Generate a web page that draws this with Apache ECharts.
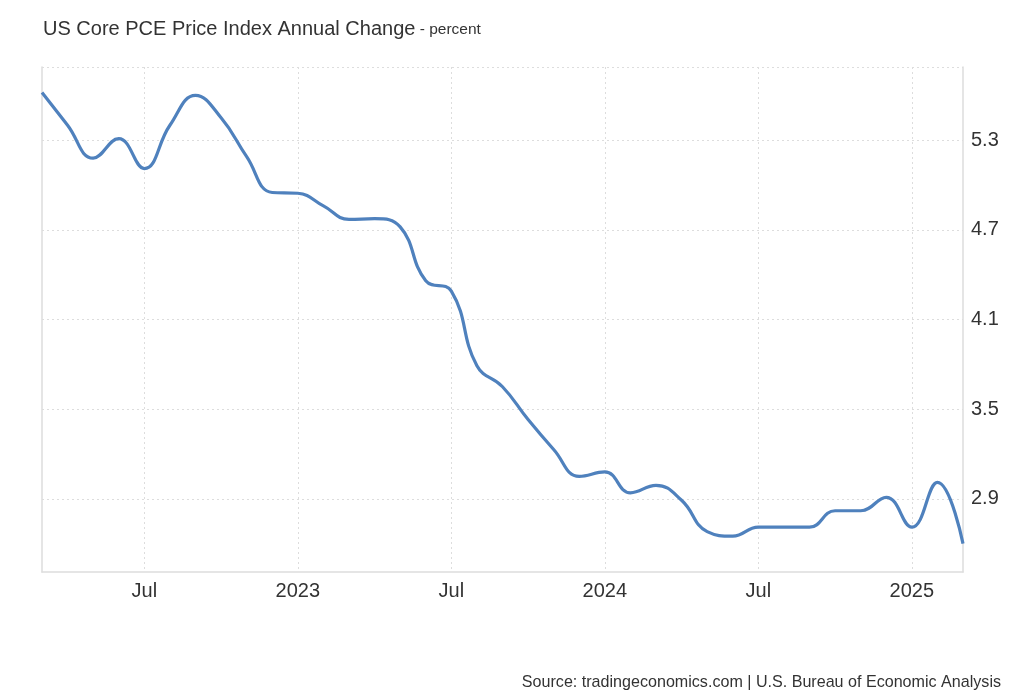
<!DOCTYPE html>
<html>
<head>
<meta charset="utf-8">
<script src="https://cdn.jsdelivr.net/npm/echarts@6/dist/echarts.min.js"></script>
<style>
html,body{margin:0;padding:0;background:#fff;}
#chart{width:1024px;height:700px;}
</style>
</head>
<body>
<div id="chart"></div>
<script>
const categories = [
  '2022-03','2022-04','2022-05','2022-06','2022-07','2022-08','2022-09','2022-10','2022-11','2022-12',
  '2023-01','2023-02','2023-03','2023-04','2023-05','2023-06','2023-07','2023-08','2023-09','2023-10','2023-11','2023-12',
  '2024-01','2024-02','2024-03','2024-04','2024-05','2024-06','2024-07','2024-08','2024-09','2024-10','2024-11','2024-12',
  '2025-01','2025-02','2025-03'
];
const coreValues = [
  5.62, 5.40, 5.18, 5.31, 5.11, 5.40, 5.60, 5.45, 5.19, 4.95,
  4.945, 4.86, 4.77, 4.775, 4.72, 4.36, 4.29, 3.79, 3.65, 3.43, 3.23, 3.05,
  3.08, 2.94, 2.99, 2.89, 2.68, 2.65, 2.71, 2.71, 2.71, 2.82, 2.82, 2.91,
  2.71, 3.01, 2.60
];
const yTickLabels = [2.9, 3.5, 4.1, 4.7, 5.3];
const yMin = 2.41, yMax = 5.79;

const monthNames = ['Jan','Feb','Mar','Apr','May','Jun','Jul','Aug','Sep','Oct','Nov','Dec'];
function isMarked(idx){
  const m = categories[idx].split('-')[1];
  return m === '01' || m === '07';
}
function fmt(val){
  const [y, m] = val.split('-');
  return m === '01' ? y : monthNames[parseInt(m,10)-1];
}
const FONT = 'Liberation Sans, Arial, sans-serif';

const chart = echarts.init(document.getElementById('chart'));
chart.setOption({
  animation: false,
  textStyle: { fontFamily: FONT },
  title: [{
    text: '{a|US Core PCE Price Index Annual Change}{b| - percent}',
    left: 38, top: 14,
    textStyle: {
      rich: {
        a: { fontSize: 20, color: '#333', fontWeight: 'normal', fontFamily: FONT },
        b: { fontSize: 15.5, color: '#333', fontWeight: 'normal', fontFamily: FONT, verticalAlign: 'bottom', padding: [0,0,1,0] }
      }
    }
  }, {
    text: 'Source: tradingeconomics.com | U.S. Bureau of Economic Analysis',
    right: 18, top: 670,
    textStyle: { fontSize: 16.1, fontWeight: 'normal', color: '#333', fontFamily: FONT }
  }],
  grid: { left: 42, right: 61, top: 67, bottom: 128 },
  xAxis: {
    type: 'category',
    data: categories,
    boundaryGap: false,
    axisLine: { show: true, lineStyle: { color: '#ddd', width: 1.5 } },
    axisTick: { show: false },
    axisLabel: {
      interval: (idx) => isMarked(idx),
      formatter: fmt,
      color: '#333', fontSize: 20, margin: 9
    },
    splitLine: {
      show: true,
      interval: (idx) => isMarked(idx),
      lineStyle: { color: '#ddd', type: [2, 3], width: 1 }
    }
  },
  yAxis: [{
    type: 'value',
    position: 'right',
    min: yMin, max: yMax,
    axisLine: { show: true, lineStyle: { color: '#ddd', width: 1.5 } },
    axisTick: { show: false, customValues: yTickLabels.concat([yMax]) },
    axisLabel: {
      customValues: yTickLabels,
      formatter: (v) => v.toFixed(1),
      color: '#333', fontSize: 20, margin: 8
    },
    splitLine: { show: true, lineStyle: { color: '#ddd', type: [2, 3], width: 1 } }
  }, {
    type: 'value',
    position: 'left',
    min: yMin, max: yMax,
    axisLine: { show: true, lineStyle: { color: '#ddd', width: 1.5 } },
    axisTick: { show: false },
    axisLabel: { show: false },
    splitLine: { show: false }
  }],
  series: [{
    type: 'line',
    data: coreValues,
    yAxisIndex: 0,
    smooth: 0.45,
    symbol: 'none',
    lineStyle: { color: '#4f81bd', width: 3.2 }
  }]
});
</script>
</body>
</html>
